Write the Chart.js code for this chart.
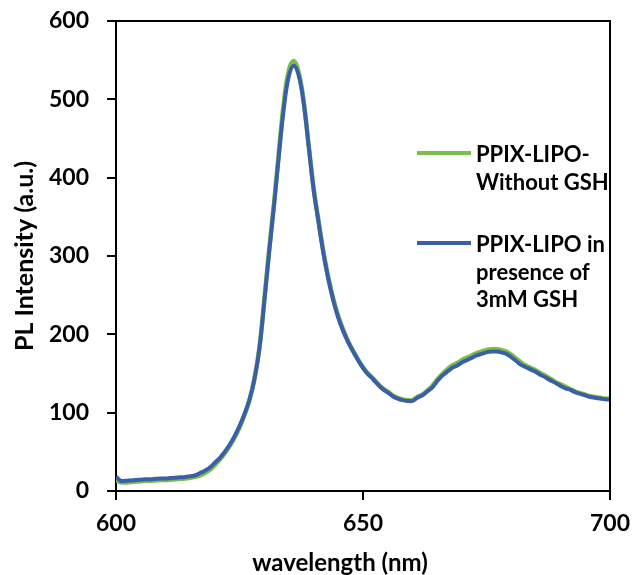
<!DOCTYPE html>
<html>
<head>
<meta charset="utf-8">
<script src="https://cdn.jsdelivr.net/npm/chart.js@4/dist/chart.umd.min.js"></script>
<style>
html,body{margin:0;padding:0;background:#fff;}
#wrap{width:634px;height:575px;}
</style>
</head>
<body>
<div id="wrap"><canvas id="c" width="634" height="575"></canvas></div>
<script>
const wavelengths = [];
for (let w = 600; w <= 700; w++) wavelengths.push(w);

const withoutGSH = [14,11,11,11.5,12,12.5,13,13,13.5,14,14,14.5,15,15.5,16,17,18,20,23,27,33,40,48,57,68,81,97,116,143,182,243,308,368,435,497,537,549,534,497,442,387,345,305,272,245,223,206,191,179,168,158,150,144,137,131,127,122,119,117,116,116,120,123,128,134,142,149,155,160,163,167,170,173,176,178,180,181,181,180,178,174,169,164,160,157,154,150,147,143,139,136,133,130,127,125,123,121,120,119,118,118];

const withGSH = [18,13,13,13.5,14,14.5,15,15,15.5,16,16,16.5,17,17.5,18,19,20,23,26,30,36,42,50,59,70,83,98,116,142,180,240,305,365,430,490,530,543,530,495,440,385,343,303,270,243,221,204,190,178,167,157,149,143,136,130,126,121,118,116,115,115,119,122,127,132,140,147,152,157,160,164,167,170,173,175,177,178,178,177,175,171,166,161,158,155,152,148,145,141,138,134,131,129,126,124,122,120,119,118,117,117];

const xTicks = [600, 650, 700];
const yTicks = [0, 100, 200, 300, 400, 500, 600];
const seriesNames = ["PPIX-LIPO-Without GSH", "PPIX-LIPO in presence of 3mM GSH"];
const legendLines = [["PPIX-LIPO-", "Without GSH"], ["PPIX-LIPO in", "presence of", "3mM GSH"]];
const xTitle = 'wavelength (nm)';
const yTitle = 'PL Intensity (a.u.)';

const GREEN = '#7bbd4a';
const BLUE = '#3b5fa7';
const FONT = 'Lato, "Noto Sans", sans-serif';

const framePlugin = {
  id: 'frame',
  afterDraw(chart) {
    const {ctx, chartArea: a} = chart;
    ctx.save();
    ctx.strokeStyle = '#000';
    ctx.lineWidth = 2;
    ctx.beginPath();
    ctx.moveTo(a.left - 1, a.top);
    ctx.lineTo(a.right, a.top);
    ctx.lineTo(a.right, a.bottom);
    ctx.stroke();
    // x title
    ctx.fillStyle = '#000';
    ctx.font = 'bold 24px ' + FONT;
    ctx.textAlign = 'center';
    ctx.textBaseline = 'middle';
    ctx.fillText(xTitle, 340, 563);
    // legend
    const colors = [GREEN, BLUE];
    const lineY = [153, 243];
    ctx.font = 'bold 22px ' + FONT;
    ctx.textAlign = 'left';
    legendLines.forEach((lines, i) => {
      ctx.strokeStyle = colors[i];
      ctx.lineWidth = 4;
      ctx.beginPath();
      ctx.moveTo(417, lineY[i]);
      ctx.lineTo(471, lineY[i]);
      ctx.stroke();
      lines.forEach((t, j) => {
        ctx.fillText(t, 476, lineY[i] + 2 + j * 27.5);
      });
    });
    ctx.restore();
  }
};

new Chart(document.getElementById('c'), {
  type: 'line',
  data: {
    datasets: [
      {label: seriesNames[1], data: wavelengths.map((w, i) => ({x: w, y: withGSH[i]})), borderColor: BLUE, borderWidth: 4, pointRadius: 0, tension: 0.4, fill: false},
      {label: seriesNames[0], data: wavelengths.map((w, i) => ({x: w, y: withoutGSH[i]})), borderColor: GREEN, borderWidth: 4.5, pointRadius: 0, tension: 0.4, fill: false}
    ]
  },
  options: {
    responsive: false,
    animation: false,
    devicePixelRatio: 1,
    layout: {padding: {top: 21, right: 24, left: 0, bottom: 0}},
    plugins: {legend: {display: false}, tooltip: {enabled: false}},
    scales: {
      x: {
        type: 'linear', min: 600, max: 700,
        afterBuildTicks(s) { s.ticks = xTicks.map(v => ({value: v})); },
        afterFit(s) { s.height = 84; s.paddingLeft = 0; s.paddingRight = 0; },
        grid: {display: true, drawOnChartArea: false, drawTicks: true, tickLength: 9, color: '#000', lineWidth: 2},
        border: {display: true, color: '#000', width: 2},
        ticks: {color: '#000', font: {family: FONT, size: 23, weight: 'bold'}, padding: 10, maxRotation: 0},
        title: {display: false}
      },
      y: {
        min: 0, max: 600,
        afterBuildTicks(s) { s.ticks = yTicks.map(v => ({value: v})); },
        afterFit(s) { s.width = 116; s.paddingTop = 0; s.paddingBottom = 0; },
        grid: {display: true, drawOnChartArea: false, drawTicks: true, tickLength: 9, color: '#000', lineWidth: 2},
        border: {display: true, color: '#000', width: 2},
        ticks: {color: '#000', font: {family: FONT, size: 23, weight: 'bold'}, padding: 18},
        title: {display: true, text: yTitle, color: '#000', font: {family: FONT, size: 25, weight: 'bold'}, padding: {top: 10, bottom: 0}}
      }
    }
  },
  plugins: [framePlugin]
});
</script>
</body>
</html>
